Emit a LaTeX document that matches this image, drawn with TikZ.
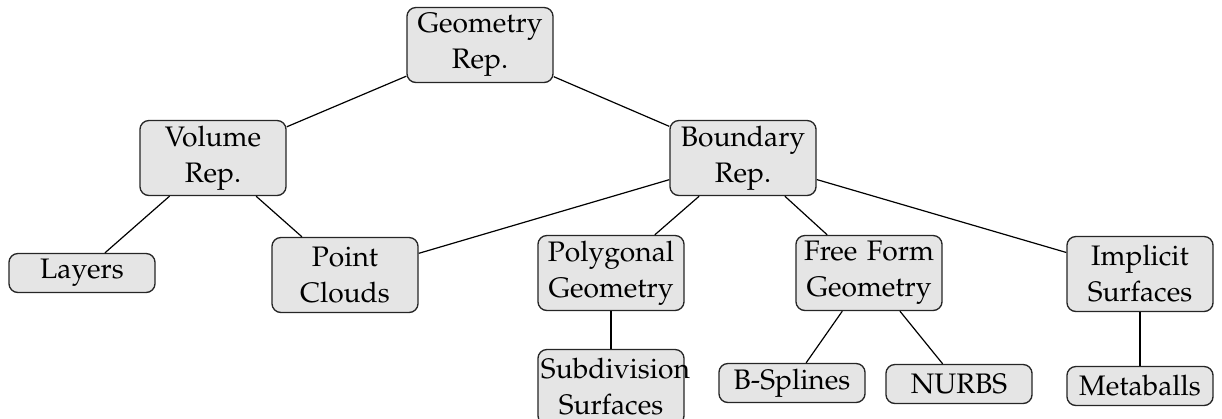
\documentclass[tikz,border=0pt]{standalone}
\usepackage[T1]{fontenc}
\usepackage{mathpazo}
\tikzset{
  box/.style={draw=black!85, line width=0.45pt, fill=gray!20, rounded corners=3pt,
    text width=46.7pt, align=center, inner xsep=1pt, inner ysep=1.6pt,
    minimum height=13pt, font=\fontsize{9.4}{12}\selectfont},
  twoline/.style={box, minimum height=25pt},
  link/.style={draw=black, line width=0.4pt}
}
\begin{document}
\begin{tikzpicture}[x=0.3333pt, y=-0.3333pt]
\useasboundingbox (0,0) rectangle (1222,418);
\node[twoline] (geo) at (480,45) {Geometry\\Rep.};
\node[twoline] (vol) at (213,158) {Volume\\Rep.};
\node[twoline] (bnd) at (743,158) {Boundary\\Rep.};
\node[box] (lay) at (82,273) {Layers};
\node[twoline] (pc) at (345,275) {Point\\Clouds};
\node[twoline] (poly) at (611,273) {Polygonal\\Geometry};
\node[twoline] (ff) at (869,273) {Free Form\\Geometry};
\node[twoline] (imp) at (1140,274) {Implicit\\Surfaces};
\node[twoline] (sub) at (611,387) {Subdivision\\Surfaces};
\node[box] (bsp) at (792,383) {B-Splines};
\node[box] (nurbs) at (959,384) {NURBS};
\node[box] (meta) at (1140,386) {Metaballs};
\path[link] (geo) -- (vol);
\path[link] (geo) -- (bnd);
\path[link] (vol) -- (lay);
\path[link] (vol) -- (pc);
\path[link] (bnd) -- (pc);
\path[link] (bnd) -- (poly);
\path[link] (bnd) -- (ff);
\path[link] (bnd) -- (imp);
\path[link] (poly) -- (sub);
\path[link] (ff) -- (bsp);
\path[link] (ff) -- (nurbs);
\path[link] (imp) -- (meta);
\end{tikzpicture}
\end{document}
